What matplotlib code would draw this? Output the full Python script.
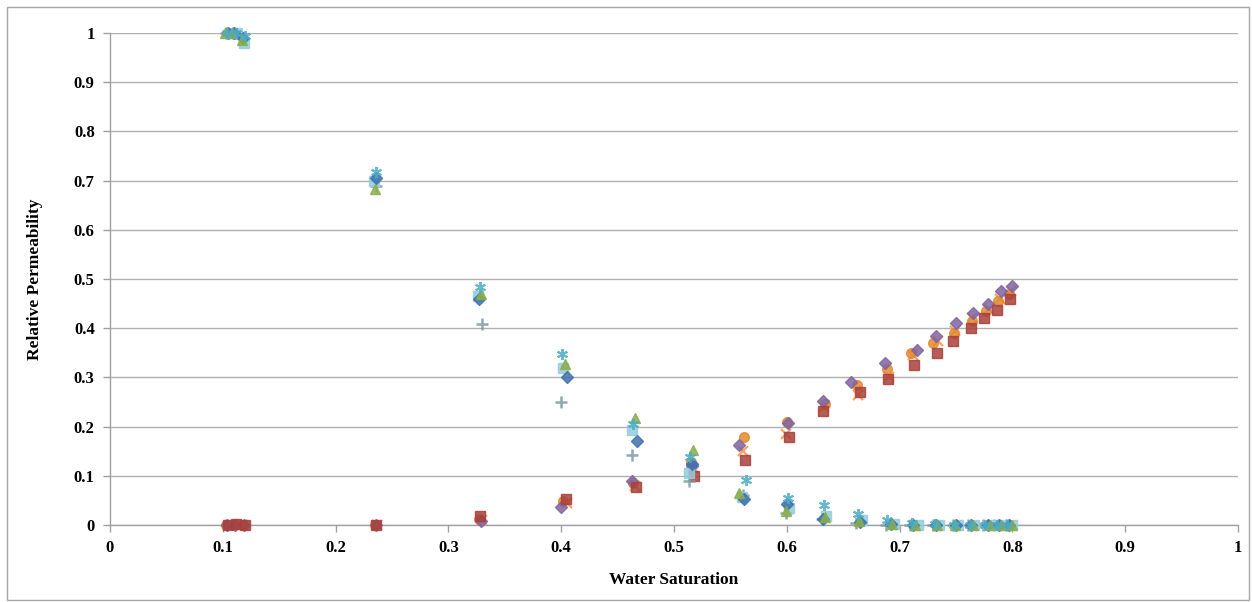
"""Relative permeability vs water saturation scatter (Excel-style)."""

import matplotlib

matplotlib.use("Agg")
import matplotlib.pyplot as plt
from matplotlib.patches import Rectangle

# ---------------------------------------------------------------------------
# Data: oil relative permeability (decreasing) series
# ---------------------------------------------------------------------------

kro_diamond_sw = [0.105, 0.110, 0.118, 0.236, 0.327, 0.405, 0.467, 0.516, 0.562, 0.600,
                  0.632, 0.665, 0.692, 0.712, 0.732, 0.750, 0.763, 0.778, 0.788, 0.797]
kro_diamond_kr = [1.0, 1.0, 0.99, 0.705, 0.46, 0.30, 0.17, 0.125, 0.052, 0.042,
                  0.012, 0.006, 0.002, 0.001, 0.0, 0.0, 0.0, 0.0, 0.0, 0.0]

kro_triangle_sw = [0.102, 0.108, 0.117, 0.235, 0.329, 0.403, 0.465, 0.517, 0.558, 0.599,
                   0.634, 0.664, 0.693, 0.714, 0.733, 0.749, 0.765, 0.780, 0.790, 0.800]
kro_triangle_kr = [1.0, 1.0, 0.985, 0.683, 0.47, 0.327, 0.218, 0.153, 0.065, 0.028,
                   0.016, 0.008, 0.003, 0.001, 0.0, 0.0, 0.0, 0.0, 0.0, 0.0]

kro_star_sw = [0.104, 0.112, 0.120, 0.236, 0.328, 0.401, 0.464, 0.514, 0.564, 0.601,
               0.633, 0.663, 0.689, 0.711, 0.731, 0.748, 0.762, 0.776, 0.786, 0.795]
kro_star_kr = [1.0, 1.0, 0.993, 0.718, 0.484, 0.348, 0.205, 0.138, 0.092, 0.055,
               0.040, 0.022, 0.011, 0.005, 0.002, 0.001, 0.0, 0.0, 0.0, 0.0]

kro_square_sw = [0.106, 0.113, 0.119, 0.234, 0.326, 0.402, 0.463, 0.513, 0.560, 0.602,
                 0.635, 0.667, 0.695, 0.716, 0.735, 0.752, 0.766, 0.782, 0.792, 0.800]
kro_square_kr = [1.0, 1.0, 0.98, 0.70, 0.465, 0.32, 0.193, 0.105, 0.057, 0.035,
                 0.018, 0.010, 0.002, 0.001, 0.0, 0.0, 0.0, 0.0, 0.0, 0.0]

kro_plus_sw = [0.103, 0.109, 0.116, 0.236, 0.330, 0.400, 0.463, 0.513, 0.561, 0.599,
               0.631, 0.661, 0.688, 0.709, 0.730, 0.747, 0.761, 0.774, 0.784, 0.794]
kro_plus_kr = [1.0, 1.0, 0.99, 0.69, 0.408, 0.25, 0.143, 0.089, 0.060, 0.025,
               0.012, 0.005, 0.001, 0.0, 0.0, 0.0, 0.0, 0.0, 0.0, 0.0]

# ---------------------------------------------------------------------------
# Data: water relative permeability (increasing) series
# ---------------------------------------------------------------------------

krw_square_sw = [0.105, 0.112, 0.120, 0.236, 0.328, 0.404, 0.466, 0.518, 0.563, 0.602,
                 0.632, 0.665, 0.690, 0.713, 0.733, 0.747, 0.763, 0.775, 0.786, 0.798]
krw_square_kr = [0.0, 0.002, 0.001, 0.001, 0.018, 0.052, 0.077, 0.100, 0.133, 0.178,
                 0.232, 0.270, 0.296, 0.325, 0.350, 0.375, 0.400, 0.420, 0.437, 0.460]

krw_circle_sw = [0.103, 0.110, 0.118, 0.235, 0.327, 0.402, 0.464, 0.515, 0.562, 0.600,
                 0.634, 0.662, 0.689, 0.710, 0.730, 0.748, 0.764, 0.777, 0.787, 0.797]
krw_circle_kr = [0.0, 0.001, 0.0, 0.0, 0.012, 0.048, 0.085, 0.128, 0.178, 0.210,
                 0.245, 0.285, 0.318, 0.350, 0.370, 0.390, 0.415, 0.435, 0.455, 0.470]

krw_diamond_sw = [0.104, 0.111, 0.119, 0.236, 0.329, 0.400, 0.463, 0.516, 0.558, 0.601,
                  0.632, 0.657, 0.687, 0.715, 0.732, 0.750, 0.765, 0.778, 0.790, 0.800]
krw_diamond_kr = [0.0, 0.001, 0.0, 0.0, 0.008, 0.037, 0.090, 0.120, 0.162, 0.208,
                  0.252, 0.290, 0.330, 0.355, 0.385, 0.410, 0.430, 0.450, 0.475, 0.485]

krw_x_sw = [0.106, 0.113, 0.117, 0.237, 0.330, 0.405, 0.465, 0.517, 0.561, 0.599,
            0.633, 0.663, 0.691, 0.712, 0.734, 0.749, 0.764, 0.779, 0.789, 0.799]
krw_x_kr = [0.0, 0.0, 0.001, 0.0, 0.010, 0.045, 0.080, 0.115, 0.150, 0.185,
            0.240, 0.265, 0.300, 0.345, 0.375, 0.395, 0.420, 0.440, 0.460, 0.475]

ticks = [0, 0.1, 0.2, 0.3, 0.4, 0.5, 0.6, 0.7, 0.8, 0.9, 1]
tick_labels = ["0", "0.1", "0.2", "0.3", "0.4", "0.5", "0.6", "0.7", "0.8", "0.9", "1"]

# ---------------------------------------------------------------------------
# Plot
# ---------------------------------------------------------------------------

plt.rcParams["font.family"] = ["Liberation Serif", "DejaVu Serif"]

fig = plt.figure(figsize=(12.52, 6.02), dpi=100)
ax = fig.add_axes([110 / 1252, 1 - 525 / 602, 1128 / 1252, 492 / 602])

# chart-area border
fig.patches.append(
    Rectangle((7 / 1252, 2 / 602), 1242 / 1252, 593 / 602, transform=fig.transFigure,
              fill=False, edgecolor="#A6A6A6", linewidth=1.0)
)

# (sw, kr, marker, colour, size, edge width)
series = [
    (krw_x_sw, krw_x_kr, "x", "#F79646", 7, 1.6),
    (krw_circle_sw, krw_circle_kr, "o", "#E48A2E", 7, 1.0),
    (krw_diamond_sw, krw_diamond_kr, "D", "#8064A2", 6, 1.0),
    (krw_square_sw, krw_square_kr, "s", "#A8403B", 6.5, 1.0),
    (kro_plus_sw, kro_plus_kr, "+", "#7C9CA0", 8, 1.8),
    (kro_square_sw, kro_square_kr, "s", "#93CDDD", 6.5, 1.0),
    (kro_diamond_sw, kro_diamond_kr, "D", "#3F70AD", 6, 1.0),
    (kro_triangle_sw, kro_triangle_kr, "^", "#8AAE4A", 7, 1.0),
    (kro_star_sw, kro_star_kr, (6, 2, 0), "#4BACC6", 8, 1.4),
]

for sw, kr, marker, color, ms, mew in series:
    ax.plot(sw, kr, linestyle="none", marker=marker, markersize=ms,
            color=color, markeredgecolor=color, markeredgewidth=mew,
            alpha=0.85, clip_on=False, zorder=3)

ax.set_xlim(0, 1)
ax.set_ylim(0, 1)
ax.set_xticks(ticks)
ax.set_xticklabels(tick_labels)
ax.set_yticks(ticks)
ax.set_yticklabels(tick_labels)

ax.grid(axis="y", color="#B0B0B0", linewidth=1.0, zorder=0)
ax.grid(axis="x", visible=False)
ax.set_axisbelow(True)

for side in ("top", "right"):
    ax.spines[side].set_visible(False)
for side in ("left", "bottom"):
    ax.spines[side].set_color("#A0A0A0")
    ax.spines[side].set_linewidth(1.0)

ax.tick_params(axis="both", direction="out", length=5, width=1.0, color="#A0A0A0",
               labelsize=12, pad=6)
for lbl in ax.get_xticklabels() + ax.get_yticklabels():
    lbl.set_fontweight("bold")

ax.set_xlabel("Water Saturation", fontsize=12.5, fontweight="bold", labelpad=11)
ax.set_ylabel("Relative Permeability", fontsize=12.5, fontweight="bold", labelpad=22)

fig.savefig("out.png", dpi=100)
